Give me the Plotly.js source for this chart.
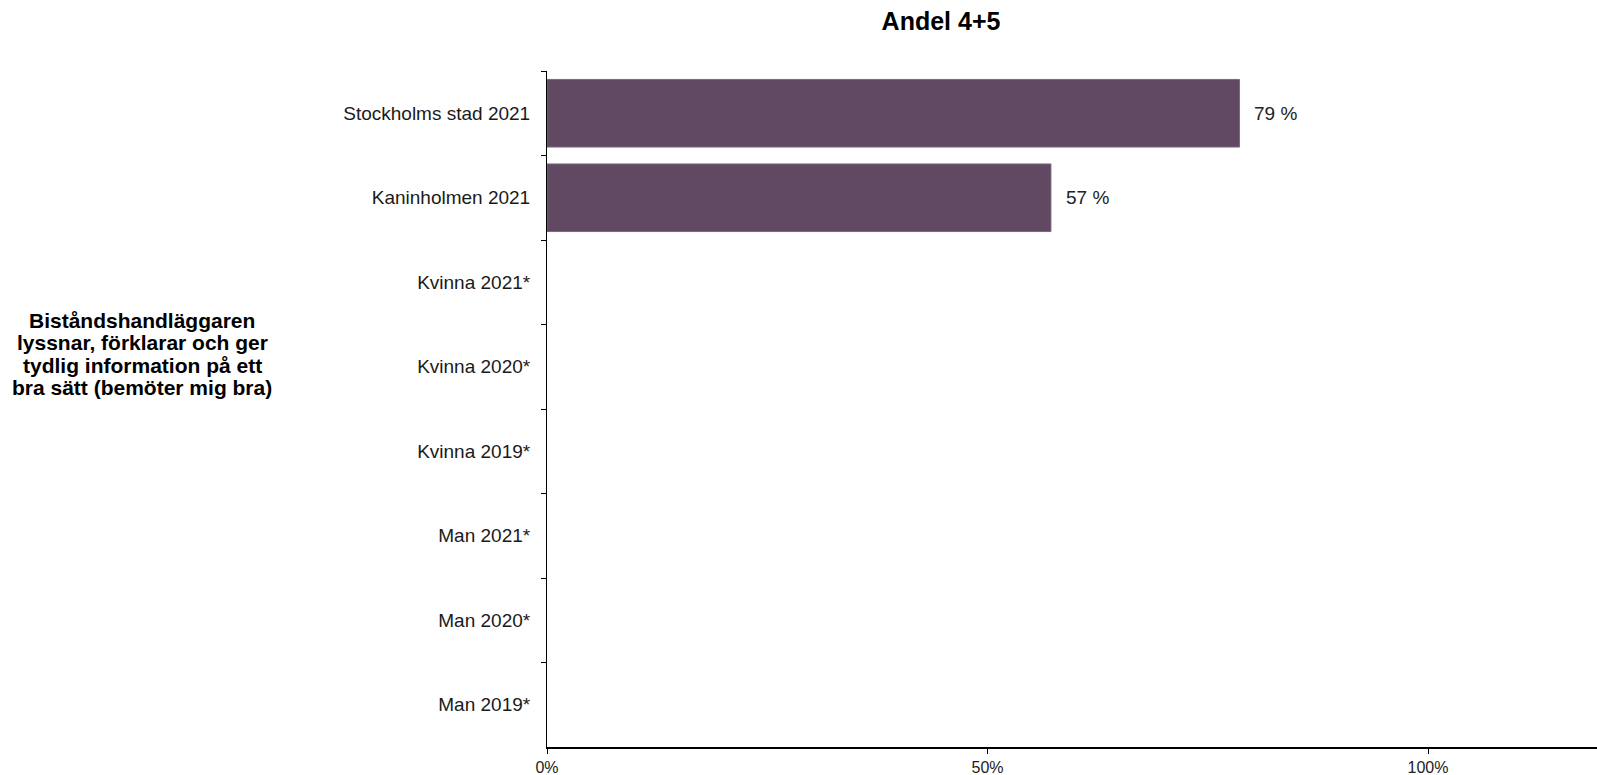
<!DOCTYPE html>
<html>
<head>
<meta charset="utf-8">
<script src="https://cdn.plot.ly/plotly-3.0.1.min.js"></script>
<style>html,body{margin:0;padding:0;background:#fff;}#chart{width:1597px;height:775px;}</style>
</head>
<body>
<div id="chart"></div>
<script>
const categories = [
  "Stockholms stad 2021",
  "Kaninholmen 2021",
  "Kvinna 2021*",
  "Kvinna 2020*",
  "Kvinna 2019*",
  "Man 2021*",
  "Man 2020*",
  "Man 2019*"
];
const shareValues = [0.786, 0.572, null, null, null, null, null, null];
const xTickValues = [0, 0.5, 1];
const xTickLabels = ["0%", "50%", "100%"];
const chartTitle = "Andel 4+5";
const questionLines = [
  "Biståndshandläggaren",
  "lyssnar, förklarar och ger",
  "tydlig information på ett",
  "bra sätt (bemöter mig bra)"
];

const W = 1597, H = 775;
const ml = 547, mr = 0, mt = 71, mb = 28;
const pw = W - ml - mr, ph = H - mt - mb;
const FONT = "Liberation Sans, Arial, sans-serif";

const trace = {
  type: "bar",
  orientation: "h",
  y: categories,
  x: shareValues,
  marker: { color: "#614963", line: { color: "#7c667f", width: 1 } },
  hoverinfo: "none",
  cliponaxis: false
};

const annotations = [];
categories.forEach((c, i) => {
  const v = shareValues[i];
  if (v !== null && v !== undefined) {
    annotations.push({
      x: v, y: c, xref: "x", yref: "y",
      text: Math.round(v * 100) + " %",
      showarrow: false, xanchor: "left", yanchor: "middle",
      xshift: 13,
      font: { family: FONT, size: 19, color: "#222" }
    });
  }
});
const lineStart = 320, lineStep = 22.5;
questionLines.forEach((t, i) => {
  annotations.push({
    xref: "paper", yref: "paper",
    x: (142 - ml) / pw,
    y: 1 - ((lineStart + i * lineStep) - mt) / ph,
    text: "<b>" + t + "</b>",
    showarrow: false, xanchor: "center", yanchor: "middle",
    font: { family: FONT, size: 21, color: "#000" }
  });
});

const layout = {
  width: W, height: H,
  margin: { l: ml, r: mr, t: mt, b: mb, pad: 0 },
  paper_bgcolor: "#fff", plot_bgcolor: "#fff",
  showlegend: false,
  bargap: 0.2,
  title: {
    text: "<b>" + chartTitle + "</b>",
    x: 941 / W, xref: "container", xanchor: "center",
    y: 1 - 21 / H, yref: "container", yanchor: "middle",
    font: { family: FONT, size: 25, color: "#000" }
  },
  xaxis: {
    range: [0, pw / 881],
    tickvals: xTickValues, ticktext: xTickLabels,
    showgrid: false, zeroline: false,
    showline: true, linecolor: "#000", linewidth: 1.5,
    ticks: "outside", ticklen: 5, tickcolor: "#000", tickwidth: 1,
    ticklabelstandoff: 0,
    tickfont: { family: FONT, size: 16, color: "#222" },
    fixedrange: true
  },
  yaxis: {
    type: "category",
    autorange: "reversed",
    showgrid: false, zeroline: false,
    showline: true, linecolor: "#000", linewidth: 1,
    ticks: "outside", ticklen: 5, tickcolor: "#000", tickwidth: 1,
    tickson: "boundaries",
    ticklabelstandoff: 12,
    tickfont: { family: FONT, size: 19, color: "#1a1a1a" },
    fixedrange: true
  },
  annotations: annotations,
  font: { family: FONT }
};

Plotly.newPlot("chart", [trace], layout, { displayModeBar: false, staticPlot: true });
</script>
</body>
</html>
